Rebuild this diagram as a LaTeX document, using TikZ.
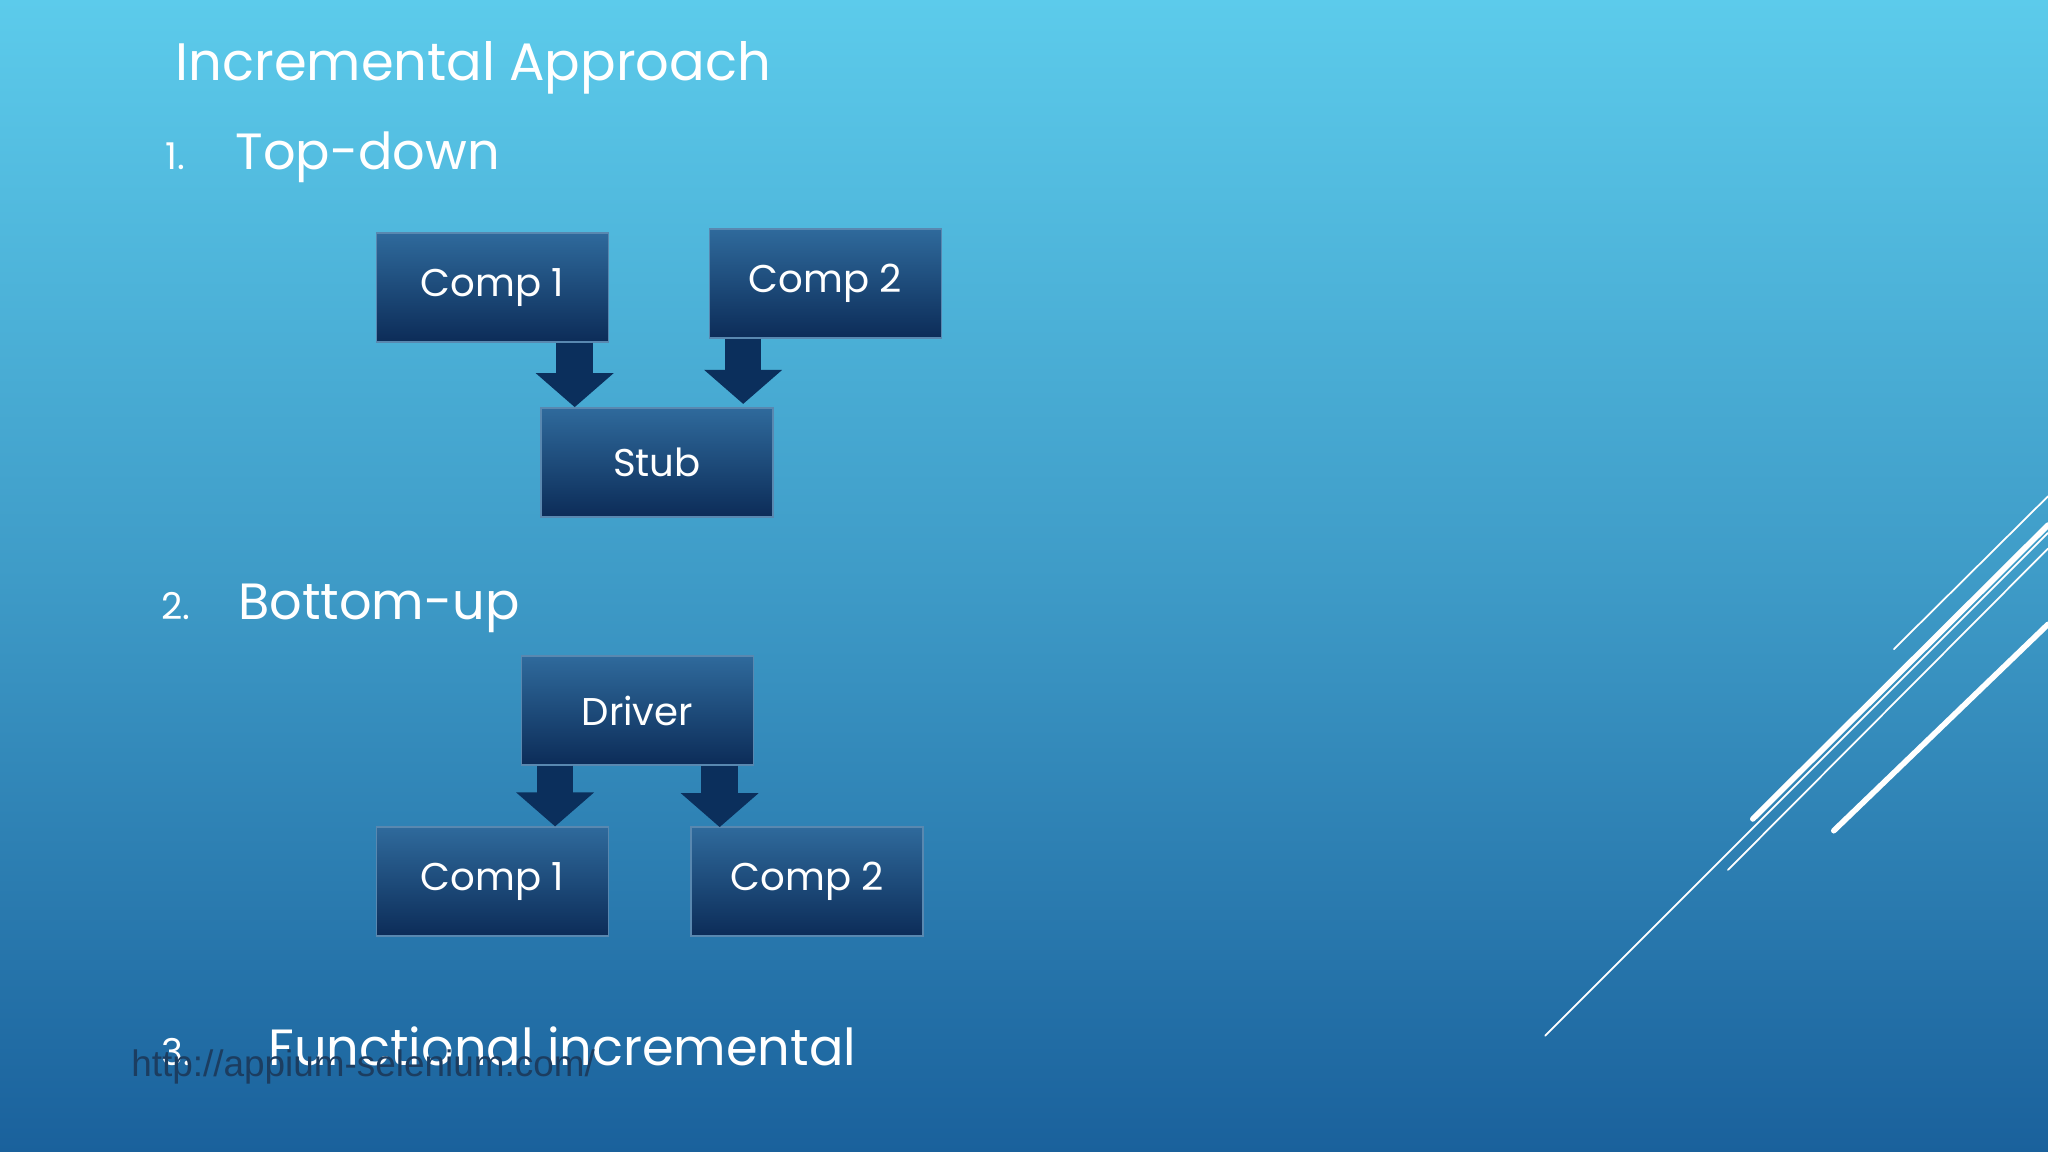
\documentclass[tikz,border=0pt]{standalone}
\usepackage{fontspec}
\setmainfont{Poppins}
\usetikzlibrary{arrows.meta, calc}
\definecolor{bgtop}{HTML}{5CCBEB}
\definecolor{bgbot}{HTML}{1A619C}
\definecolor{boxtop}{HTML}{2F6A9C}
\definecolor{boxbot}{HTML}{0C2C58}
\definecolor{arrowc}{HTML}{0B2F5C}
\definecolor{urlc}{HTML}{1C3D60}
\tikzset{
  comp/.style={draw=boxtop!80!white, line width=0.4pt, top color=boxtop, bottom color=boxbot,
    minimum width=2.32cm, minimum height=1.09cm, text=white, font=\fontsize{11}{13}\selectfont},
  blockarrow/.style={draw=arrowc, line width=0.366cm,
    -{Triangle[width=0.76cm, length=0.34cm]}},
  heading/.style={text=white, anchor=base west, inner sep=0pt},
  deco/.style={white, line cap=round}
}
\begin{document}
\begin{tikzpicture}[x=0.01306cm, y=-0.01306cm]
\useasboundingbox (0,0) rectangle (1568,882);
% background
\shade[top color=bgtop, bottom color=bgbot, middle color=bgtop!55!bgbot] (0,0) rectangle (1568,882);
% decorative lines
\draw[deco, line width=1.6pt] (1342,627) -- (1568,402);
\draw[deco, line width=0.5pt] (1323,666) -- (1568,420);
\draw[deco, line width=1.6pt] (1404,636) -- (1568,478);
\draw[deco, line width=0.5pt] (1450,497) -- (1568,380);
\draw[deco, line width=0.5pt] (1183,793) -- (1568,408);
% headings
\node[heading, font=\fontsize{15}{17}\selectfont] (title) at (134,62) {Incremental Approach};
\node[heading, font=\fontsize{10.5}{13}\selectfont] (n1) at (126,130) {1.};
\node[heading, font=\fontsize{14.5}{17}\selectfont] (h1) at (180,130) {Top-down};
\node[heading, font=\fontsize{10.5}{13}\selectfont] (n2) at (123,474) {2.};
\node[heading, font=\fontsize{14.5}{17}\selectfont] (h2) at (182,474) {Bottom-up};
\node[heading, font=\fontsize{10.5}{13}\selectfont] (n3) at (123,816) {3.};
\node[heading, font=\fontsize{14.5}{17}\selectfont] (h3) at (205,816) {Functional incremental};
% top-down
\node[comp] (t1) at (377,220) {Comp 1};
\node[comp] (t2) at (632,217) {Comp 2};
\node[comp] (ts) at (503,354) {Stub};
\draw[blockarrow] ($(t1.south)+(63,0)$) -- ($(ts.north)+(-63,0)$);
\draw[blockarrow] ($(t2.south)+(-63,0)$) -- ($(t2.south)+(-63,50)$);
% bottom-up
\node[comp] (d) at (488,544) {Driver};
\node[comp] (b1) at (377,675) {Comp 1};
\node[comp] (b2) at (618,675) {Comp 2};
\draw[blockarrow] ($(d.south)+(-63,0)$) -- ($(b1.north)+(48,0)$);
\draw[blockarrow] ($(d.south)+(63,0)$) -- ($(d.south)+(63,47)$);
% url
\node[anchor=base west, inner sep=0pt, text=urlc, font=\fontspec{Liberation Sans}\fontsize{10.5}{12}\selectfont] (url) at (100,824) {http://appium-selenium.com/};
\end{tikzpicture}
\end{document}
